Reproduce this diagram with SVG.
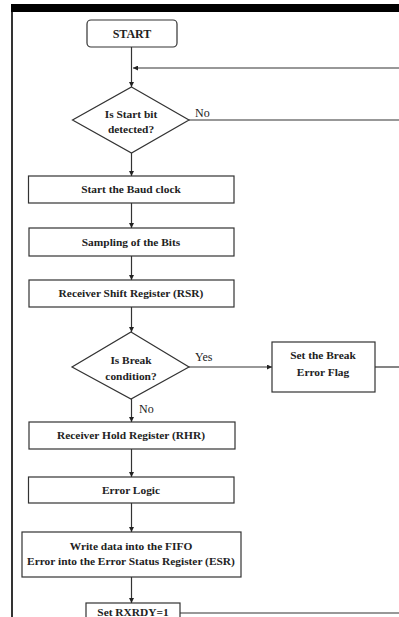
<svg xmlns="http://www.w3.org/2000/svg" width="399" height="617" viewBox="0 0 399 617">
<defs>
<style>
.n{fill:#fff;stroke:#333;stroke-width:1.2}
.t{font-family:"Liberation Serif","Times New Roman",serif;font-weight:bold;font-size:11.4px;fill:#222;text-anchor:middle}
.l{font-family:"Liberation Serif","Times New Roman",serif;font-size:12px;fill:#222}
.c{fill:none;stroke:#333;stroke-width:1.2}
</style>
<marker id="a" viewBox="0 0 10 10" refX="10" refY="5" markerWidth="5" markerHeight="5" orient="auto" markerUnits="userSpaceOnUse">
<path d="M0,0 L10,5 L0,10 z" fill="#222"/>
</marker>
</defs>
<rect width="399" height="617" fill="#fff"/>
<rect x="11" y="4" width="388" height="8" fill="#000"/>
<line x1="12" y1="4" x2="12" y2="617" stroke="#000" stroke-width="1.6"/>
<g id="connectors">
<line class="c" x1="131.5" y1="47" x2="131.5" y2="87" marker-end="url(#a)"/>
<line class="c" x1="399" y1="68" x2="133" y2="68" marker-end="url(#a)"/>
<line class="c" x1="189" y1="120" x2="399" y2="120"/>
<line class="c" x1="131.5" y1="153" x2="131.5" y2="176" marker-end="url(#a)"/>
<line class="c" x1="131.5" y1="203" x2="131.5" y2="228" marker-end="url(#a)"/>
<line class="c" x1="131.5" y1="256" x2="131.5" y2="280" marker-end="url(#a)"/>
<line class="c" x1="131.5" y1="307" x2="131.5" y2="332" marker-end="url(#a)"/>
<line class="c" x1="189" y1="367" x2="272" y2="367" marker-end="url(#a)"/>
<line class="c" x1="375" y1="367" x2="399" y2="367"/>
<line class="c" x1="131.5" y1="399" x2="131.5" y2="422" marker-end="url(#a)"/>
<line class="c" x1="131.5" y1="449" x2="131.5" y2="477" marker-end="url(#a)"/>
<line class="c" x1="131.5" y1="503" x2="131.5" y2="532" marker-end="url(#a)"/>
<line class="c" x1="131.5" y1="577" x2="131.5" y2="603" marker-end="url(#a)"/>
<line class="c" x1="180" y1="613" x2="399" y2="613"/>
<text class="l" x="195" y="117">No</text>
<text class="l" x="195" y="361">Yes</text>
<text class="l" x="139" y="413">No</text>
</g>
<g id="start">
<rect class="n" x="87" y="20" width="90" height="27" rx="4"/>
<text class="t" x="132" y="38" style="font-size:12px">START</text>
</g>
<g id="startbit">
<polygon class="n" points="131.5,87 189,120 131.5,153 72.5,120"/>
<text class="t" x="131" y="118">Is Start bit</text>
<text class="t" x="131" y="133">detected?</text>
</g>
<g id="baud">
<rect class="n" x="28.5" y="176" width="205.5" height="27"/>
<text class="t" x="131" y="193">Start the Baud clock</text>
</g>
<g id="sampling">
<rect class="n" x="29" y="228" width="205" height="28"/>
<text class="t" x="131" y="246">Sampling of the Bits</text>
</g>
<g id="rsr">
<rect class="n" x="29" y="280" width="205" height="27"/>
<text class="t" x="131" y="297">Receiver Shift Register (RSR)</text>
</g>
<g id="break">
<polygon class="n" points="131,332 189,367 131,399 72,367"/>
<text class="t" x="131" y="364">Is Break</text>
<text class="t" x="131" y="380">condition?</text>
</g>
<g id="breakflag">
<rect class="n" x="272" y="342" width="103" height="50"/>
<text class="t" x="323" y="359">Set the Break</text>
<text class="t" x="323" y="376">Error Flag</text>
</g>
<g id="rhr">
<rect class="n" x="29" y="422" width="206" height="27"/>
<text class="t" x="131" y="439">Receiver Hold Register (RHR)</text>
</g>
<g id="errorlogic">
<rect class="n" x="28.5" y="477" width="205.5" height="26"/>
<text class="t" x="131" y="494">Error Logic</text>
</g>
<g id="write">
<rect class="n" x="22" y="532" width="219" height="45"/>
<text class="t" x="131" y="550">Write data into the FIFO</text>
<text class="t" x="131" y="565">Error into the Error Status Register (ESR)</text>
</g>
<g id="rxrdy">
<rect class="n" x="86" y="603" width="94" height="30"/>
<text class="t" x="133" y="616">Set RXRDY=1</text>
</g>
</svg>
